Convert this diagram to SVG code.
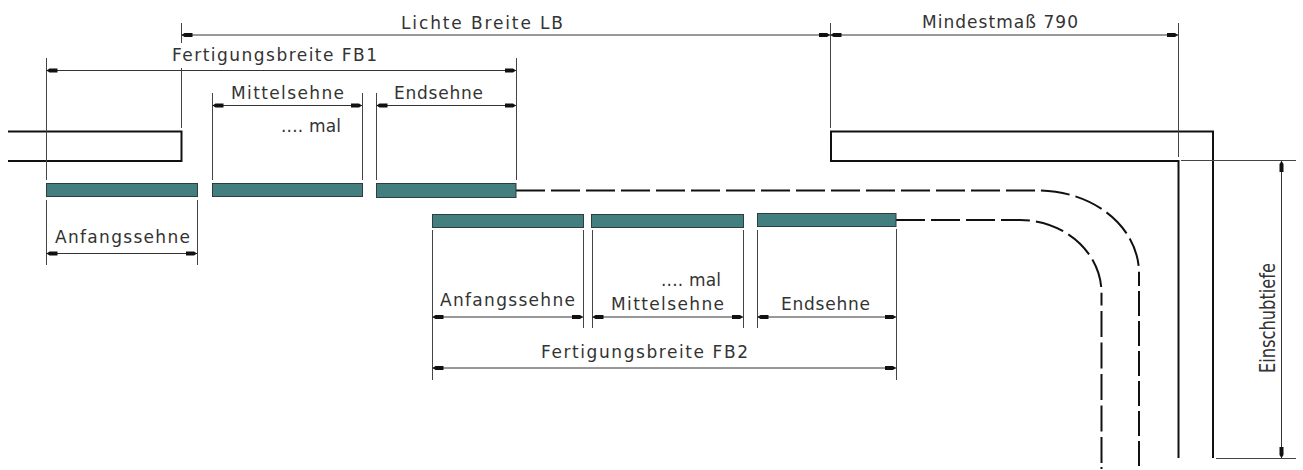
<svg xmlns="http://www.w3.org/2000/svg" width="1303" height="470" viewBox="0 0 1303 470">
<style>
text{font-family:"DejaVu Sans",sans-serif;font-size:17px;fill:#333}
.w{fill:none;stroke:#111;stroke-width:2}
.d{fill:none;stroke:#111;stroke-width:2;stroke-dasharray:29 6}
.v1{fill:none;stroke:#111;stroke-width:2;stroke-dasharray:25 5}
.v2{fill:none;stroke:#111;stroke-width:2;stroke-dasharray:26 5.500}
.e{fill:none;stroke:#444;stroke-width:1}
.m{fill:none;stroke:#333;stroke-width:1;marker-start:url(#a);marker-end:url(#a)}
.s{fill:#437f7f;stroke:#2e3d3d;stroke-width:1}
</style>
<defs>
<marker id="a" markerUnits="userSpaceOnUse" markerWidth="14" markerHeight="8" refX="12" refY="4" orient="auto-start-reverse" viewBox="0 0 14 8">
<path d="M1,2 L9,2 L12,4 L9,6 L1,6 Z" fill="#111"/>
</marker>
</defs>
<g id="walls">
<path class="w" d="M8,131.500H181.500V161H8"/>
<path class="w" d="M1178.500,458V161H831V131.500H1213V458"/>
</g>
<g id="connectors">
<path class="d" d="M516,190.500H1038A101,82.500 0 0 1 1139,273"/>
<path class="v1" d="M1139,466V273"/>
<path class="d" d="M896,220H1020A82,73 0 0 1 1101.500,293"/>
<path class="v2" d="M1101.500,463V293"/>
<path class="w" d="M1101.500,467V469"/>
<path class="e" d="M46.500,58V180M46.500,200V265M197.500,200V265M181.500,23V43M181.500,68V128M212.500,93V180M362.500,93V180M376.500,93V180M516.500,58V180"/>
<path class="e" d="M432.500,230V380M583.500,230V328M592.500,230V328M743.500,230V328M757.500,230V328M896.500,229V380"/>
<path class="e" d="M830.500,23V128M1178.500,23V157M1181,160.500H1296M1216,458.500H1296"/>
<path class="m" d="M181.500,35H830"/>
<path class="m" d="M830.500,35H1178"/>
<path class="m" d="M46.500,70.500H516"/>
<path class="m" d="M212.500,105.500H362"/>
<path class="m" d="M376.500,105.500H516"/>
<path class="m" d="M46.500,253.500H197"/>
<path class="m" d="M432.500,317H583"/>
<path class="m" d="M592.500,317H743"/>
<path class="m" d="M757.500,317H896"/>
<path class="m" d="M432.500,368H896"/>
<path class="m" d="M1281.500,161V458"/>
</g>
<g id="bar-fb1-anfang"><rect class="s" x="46.500" y="183.500" width="151" height="13"/></g>
<g id="bar-fb1-mittel"><rect class="s" x="212.500" y="183.500" width="150" height="13"/></g>
<g id="bar-fb1-end"><rect class="s" x="376.500" y="183.500" width="139.500" height="14"/></g>
<g id="bar-fb2-anfang"><rect class="s" x="432.500" y="214.500" width="151" height="13"/></g>
<g id="bar-fb2-mittel"><rect class="s" x="591.500" y="214.500" width="152" height="13"/></g>
<g id="bar-fb2-end"><rect class="s" x="757.500" y="213.500" width="138.500" height="13"/></g>
<g id="labels">
<text x="401" y="29" textLength="162" lengthAdjust="spacing">Lichte Breite LB</text>
<text x="922" y="28" textLength="156" lengthAdjust="spacing">Mindestmaß 790</text>
<text x="172" y="61" textLength="205" lengthAdjust="spacing">Fertigungsbreite FB1</text>
<text x="231" y="99" textLength="113" lengthAdjust="spacing">Mittelsehne</text>
<text x="394" y="99" textLength="89" lengthAdjust="spacing">Endsehne</text>
<text x="281" y="132" textLength="60" lengthAdjust="spacing">.... mal</text>
<text x="55" y="243" textLength="135" lengthAdjust="spacing">Anfangssehne</text>
<text x="440" y="306" textLength="135" lengthAdjust="spacing">Anfangssehne</text>
<text x="661" y="286" textLength="60" lengthAdjust="spacing">.... mal</text>
<text x="611" y="310" textLength="113" lengthAdjust="spacing">Mittelsehne</text>
<text x="781" y="310" textLength="89" lengthAdjust="spacing">Endsehne</text>
<text x="541" y="358" textLength="207" lengthAdjust="spacing">Fertigungsbreite FB2</text>
<text transform="translate(1275,373) rotate(-90)" textLength="110" lengthAdjust="spacingAndGlyphs" style="font-size:21px">Einschubtiefe</text>
</g>
</svg>
